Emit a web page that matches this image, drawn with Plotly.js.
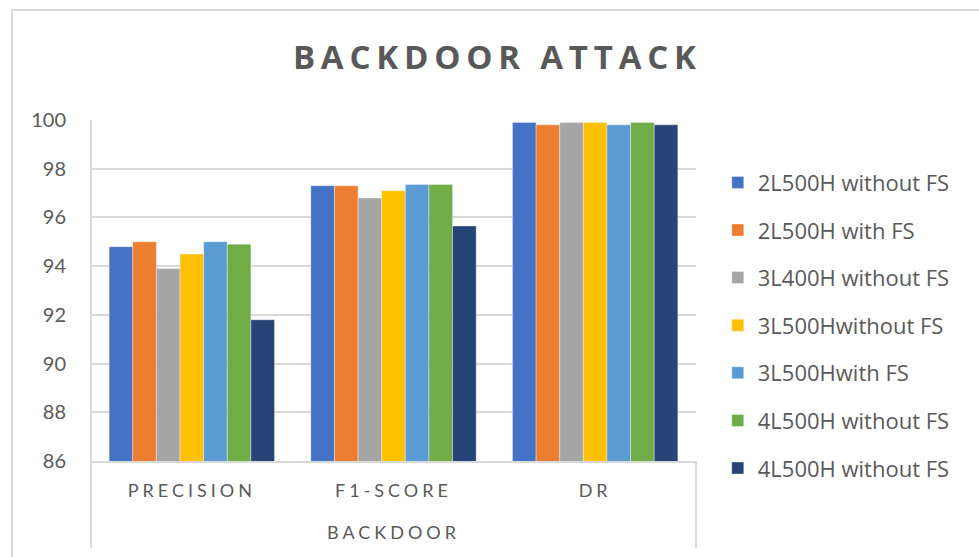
<!DOCTYPE html>
<html>
<head>
<meta charset="utf-8">
<script src="https://cdn.plot.ly/plotly-3.0.1.min.js"></script>
<style>
  html, body { margin: 0; padding: 0; background: #fff; }
  #chart { width: 979px; height: 557px; }
  .gtitle { letter-spacing: 5.8px; }
  .xtick text, .g-xtitle text { letter-spacing: 4px; }
</style>
</head>
<body>
<div id="chart"></div>
<script>
// Backdoor attack metrics per model configuration
const categories = ["PRECISION", "F1-SCORE", "DR"];
const seriesNames = [
  "2L500H without FS",
  "2L500H with FS",
  "3L400H without FS",
  "3L500Hwithout FS",
  "3L500Hwith FS",
  "4L500H without FS",
  "4L500H without FS"
];
const s2L500H_noFS = [94.8, 97.3, 99.9];
const s2L500H_FS   = [95.0, 97.3, 99.8];
const s3L400H_noFS = [93.9, 96.8, 99.9];
const s3L500H_noFS = [94.5, 97.1, 99.9];
const s3L500H_FS   = [95.0, 97.35, 99.8];
const s4L500H_noFS = [94.9, 97.35, 99.9];
const s4L500H_noFS_b = [91.8, 95.65, 99.8];
const yTicks = [86, 88, 90, 92, 94, 96, 98, 100];

const seriesValues = [s2L500H_noFS, s2L500H_FS, s3L400H_noFS, s3L500H_noFS,
                      s3L500H_FS, s4L500H_noFS, s4L500H_noFS_b];
const colors = ["#4472C4", "#ED7D31", "#A5A5A5", "#FFC000", "#5B9BD5", "#70AD47", "#264478"];

const traces = seriesValues.map((vals, i) => ({
  type: "bar",
  name: seriesNames[i],
  x: categories,
  y: vals,
  legendgroup: "g" + i,
  marker: { color: colors[i], line: { color: "rgba(255,255,255,0.6)", width: 0.6 } },
  hoverinfo: "x+y+name"
}));

const grid = "#d9d9d9";
const layout = {
  width: 979,
  height: 557,
  margin: { l: 91, r: 283, t: 120, b: 96 },
  paper_bgcolor: "#ffffff",
  plot_bgcolor: "#ffffff",
  barmode: "group",
  bargap: 0.18,
  bargroupgap: 0,
  title: {
    text: "BACKDOOR ATTACK",
    font: { family: "Open Sans", size: 33, color: "#595959", weight: 700 },
    x: 0.508, xanchor: "center", xref: "container",
    y: 0.897, yanchor: "middle", yref: "container"
  },
  xaxis: {
    type: "category",
    showline: true, linecolor: grid, linewidth: 2,
    showgrid: false,
    ticks: "", ticklabelstandoff: 12,
    tickfont: { family: "Lato", size: 18, color: "#595959" },
    title: {
      text: "BACKDOOR",
      font: { family: "Lato", size: 18, color: "#595959" },
      standoff: 27
    },
    automargin: false
  },
  yaxis: {
    range: [86, 100],
    tickvals: yTicks,
    ticktext: yTicks.map(String),
    showgrid: true, gridcolor: grid, gridwidth: 2,
    zeroline: false,
    showline: false,
    ticks: "", ticklabelstandoff: 24,
    tickfont: { family: "Lato", size: 20, color: "#595959" },
    automargin: false
  },
  legend: {
    x: 1.036, xanchor: "left",
    y: 0.397, yanchor: "middle",
    traceorder: "grouped",
    tracegroupgap: 16,
    font: { family: "Open Sans", size: 22, color: "#595959" },
    bgcolor: "rgba(0,0,0,0)",
    itemclick: false, itemdoubleclick: false
  },
  shapes: [
    // outer chart frame (top and left edges)
    { type: "line", xref: "paper", yref: "paper", x0: -0.1306, x1: 1.6, y0: 1.3226, y1: 1.3226,
      line: { color: grid, width: 2 } },
    { type: "line", xref: "paper", yref: "paper", x0: -0.1306, x1: -0.1306, y0: 1.3226, y1: -0.4,
      line: { color: grid, width: 2 } },
    // axis line extended through the category band
    { type: "line", xref: "paper", yref: "paper", x0: 0, x1: 0, y0: 1, y1: -0.255,
      line: { color: grid, width: 2 } },
    { type: "line", xref: "paper", yref: "paper", x0: 1, x1: 1, y0: 0, y1: -0.255,
      line: { color: grid, width: 2 } }
  ]
};

Plotly.newPlot("chart", traces, layout, { displayModeBar: false, staticPlot: false });
</script>
</body>
</html>
